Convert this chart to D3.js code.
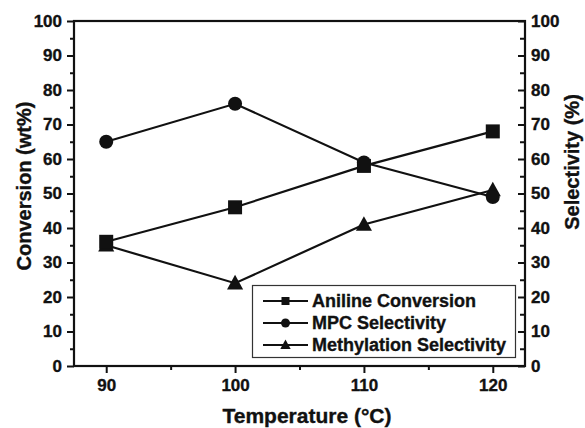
<!DOCTYPE html>
<html>
<head>
<meta charset="utf-8">
<script src="https://cdn.jsdelivr.net/npm/d3@7"></script>
<style>
  html, body { margin: 0; padding: 0; background: #fff; }
  svg text { font-family: "Liberation Sans", Arial, Helvetica, sans-serif; font-weight: bold; fill: #111; stroke: #111; stroke-width: 0.35px; }
</style>
</head>
<body>
<svg id="chart" width="585" height="428"></svg>
<script>
const temperatures = [90, 100, 110, 120];
const anilineConversion = [36, 46, 58, 68];
const mpcSelectivity = [65, 76, 59, 49];
const methylationSelectivity = [35, 24, 41, 51];
const seriesNames = ["Aniline Conversion", "MPC Selectivity", "Methylation Selectivity"];
const yTicks = [0, 10, 20, 30, 40, 50, 60, 70, 80, 90, 100];
const yMinorTicks = [5, 15, 25, 35, 45, 55, 65, 75, 85, 95];
const xTicks = [90, 100, 110, 120];
const xMinorTicks = [95, 105, 115];

const svg = d3.select("#chart");
const pL = 74, pR = 525, pT = 21, pB = 366;

const x = d3.scaleLinear().domain([87.5, 122.5]).range([pL, pR]);
const y = d3.scaleLinear().domain([0, 100]).range([pB, pT]);
const y2 = d3.scaleLinear().domain([0, 100]).range([pB, pT]);

const ink = "#111";

const series = [
  { name: seriesNames[0], values: anilineConversion, scale: y, shape: "square" },
  { name: seriesNames[1], values: mpcSelectivity, scale: y2, shape: "circle" },
  { name: seriesNames[2], values: methylationSelectivity, scale: y2, shape: "triangle" }
];

function drawMarker(g, shape, cx, cy, size) {
  if (shape === "square") {
    g.append("rect").attr("x", cx - size / 2).attr("y", cy - size / 2)
      .attr("width", size).attr("height", size).attr("fill", ink);
  } else if (shape === "circle") {
    g.append("circle").attr("cx", cx).attr("cy", cy).attr("r", size / 2).attr("fill", ink);
  } else {
    const w = size * 1.15, h = size;
    g.append("path")
      .attr("d", `M${cx},${cy - h * 0.6} L${cx + w / 2},${cy + h * 0.45} L${cx - w / 2},${cy + h * 0.45} Z`)
      .attr("fill", ink);
  }
}

const plot = svg.append("g");
series.forEach(s => {
  const line = d3.line().x((d, i) => x(temperatures[i])).y(d => s.scale(d));
  plot.append("path").datum(s.values).attr("d", line)
    .attr("fill", "none").attr("stroke", ink).attr("stroke-width", 2.2);
});
series.slice().reverse().forEach(s => {
  s.values.forEach((v, i) => drawMarker(plot, s.shape, x(temperatures[i]), s.scale(v), 14));
});

svg.append("rect").attr("x", pL).attr("y", pT)
  .attr("width", pR - pL).attr("height", pB - pT)
  .attr("fill", "none").attr("stroke", ink).attr("stroke-width", 2.2);

const fs = "17px";
const styleAxis = g => {
  g.select(".domain").remove();
  g.selectAll(".tick line").attr("stroke", ink).attr("stroke-width", 2);
  g.selectAll("text").style("font-size", fs).attr("fill", ink);
};

svg.append("g").attr("transform", `translate(${pL},0)`)
  .call(d3.axisLeft(y).tickValues(yTicks).tickSize(7).tickPadding(5)).call(styleAxis);
svg.append("g").attr("transform", `translate(${pL},0)`)
  .call(d3.axisLeft(y).tickValues(yMinorTicks).tickSize(4).tickFormat("")).call(styleAxis);

svg.append("g").attr("transform", `translate(${pR},0)`)
  .call(d3.axisRight(y2).tickValues(yTicks).tickSize(-7).tickPadding(6)).call(styleAxis);
svg.append("g").attr("transform", `translate(${pR},0)`)
  .call(d3.axisRight(y2).tickValues(yMinorTicks).tickSize(-5).tickFormat("")).call(styleAxis);

svg.append("g").attr("transform", `translate(0,${pB})`)
  .call(d3.axisBottom(x).tickValues(xTicks).tickSize(7).tickPadding(6)).call(styleAxis);
svg.append("g").attr("transform", `translate(0,${pB})`)
  .call(d3.axisBottom(x).tickValues(xMinorTicks).tickSize(4).tickFormat("")).call(styleAxis);

svg.append("text").attr("transform", `translate(31,186) rotate(-90)`)
  .attr("text-anchor", "middle").style("font-size", "20px").text("Conversion (wt%)");
svg.append("text").attr("transform", `translate(579,162) rotate(-90)`)
  .attr("text-anchor", "middle").style("font-size", "20px").text("Selectivity (%)");
svg.append("text").attr("x", 307).attr("y", 423)
  .attr("text-anchor", "middle").style("font-size", "21px").text("Temperature (°C)");

const lg = svg.append("g");
lg.append("rect").attr("x", 252.5).attr("y", 285.5).attr("width", 263).attr("height", 72)
  .attr("fill", "#fff").attr("stroke", "#333").attr("stroke-width", 1.2);
const rows = [301, 323, 345];
series.forEach((s, i) => {
  const ry = rows[i];
  lg.append("line").attr("x1", 263).attr("x2", 308).attr("y1", ry).attr("y2", ry)
    .attr("stroke", ink).attr("stroke-width", 2);
  drawMarker(lg, s.shape, 285.5, ry, s.shape === "square" ? 8 : 9);
  lg.append("text").attr("x", 312).attr("y", ry + 6).style("font-size", "18px").text(s.name);
});
</script>
</body>
</html>
